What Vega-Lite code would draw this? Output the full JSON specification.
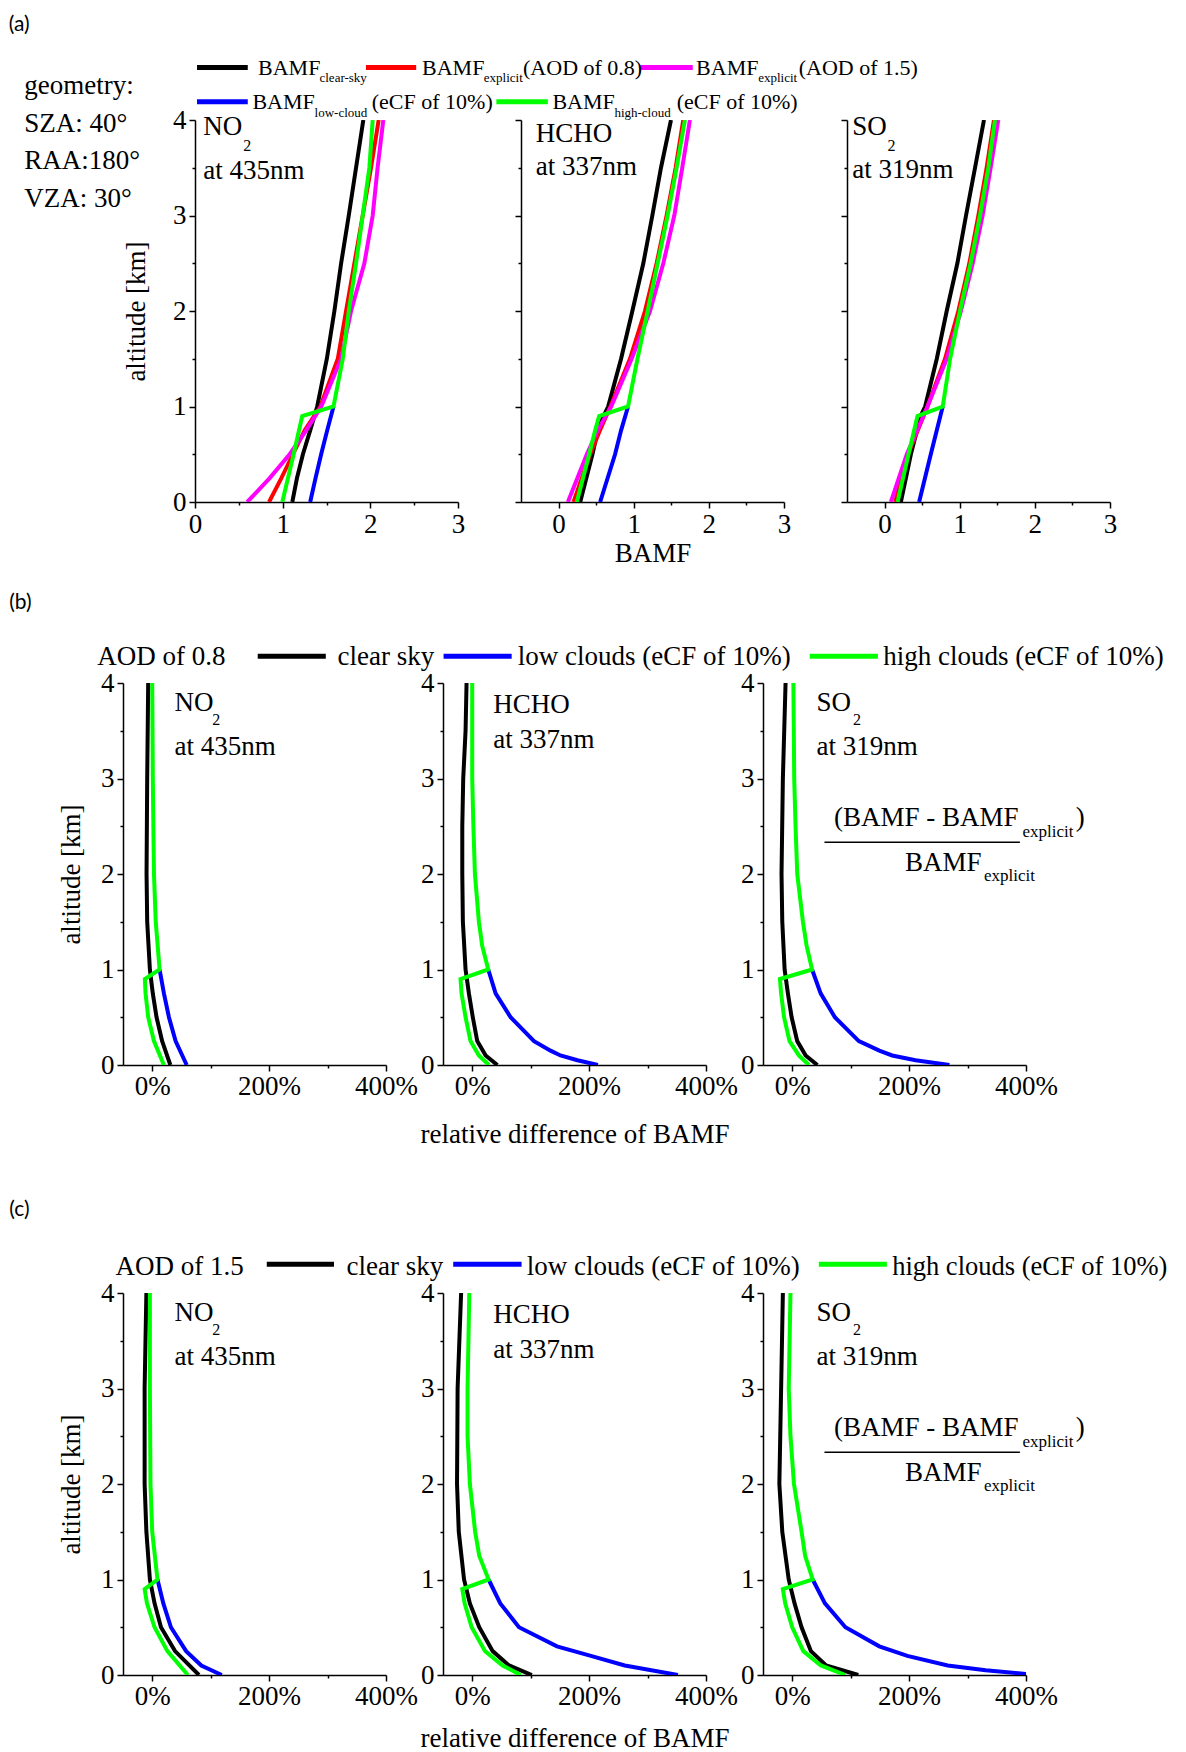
{
  "$schema": "https://vega.github.io/schema/vega-lite/v6.json",
  "padding": {"left": 8, "top": 13, "right": 5, "bottom": 0},
  "background": "#ffffff",
  "spacing": 25,
  "config": {
    "view": {"stroke": null},
    "font": "Liberation Serif",
    "axis": {
      "grid": false, "labelFont": "Liberation Serif", "labelFontSize": 27, "labelColor": "#000000",
      "titleFont": "Liberation Serif", "titleFontSize": 27, "titleFontWeight": "normal", "titleColor": "#000000",
      "domainColor": "#000000", "domainWidth": 1.5, "tickColor": "#000000", "tickWidth": 1.5,
      "labelPadding": 3, "labelFlush": false, "labelOverlap": false
    },
    "text": {"font": "Liberation Serif", "fontSize": 27, "align": "left", "baseline": "alphabetic", "color": "#000000"},
    "rule": {"color": "#000000", "strokeWidth": 5}
  },
  "datasets": {
    "a": [
      {"sp":"NO2","s":"cs","alt":0,"v":1.11},{"sp":"NO2","s":"cs","alt":0.25,"v":1.163},{"sp":"NO2","s":"cs","alt":0.5,"v":1.231},{"sp":"NO2","s":"cs","alt":0.75,"v":1.314},{"sp":"NO2","s":"cs","alt":1,"v":1.394},{"sp":"NO2","s":"cs","alt":1.5,"v":1.504},{"sp":"NO2","s":"cs","alt":2,"v":1.59},{"sp":"NO2","s":"cs","alt":2.5,"v":1.667},{"sp":"NO2","s":"cs","alt":3,"v":1.754},{"sp":"NO2","s":"cs","alt":3.5,"v":1.837},{"sp":"NO2","s":"cs","alt":4,"v":1.92},
      {"sp":"NO2","s":"e08","alt":0,"v":0.845},{"sp":"NO2","s":"e08","alt":0.25,"v":0.985},{"sp":"NO2","s":"e08","alt":0.5,"v":1.117},{"sp":"NO2","s":"e08","alt":0.75,"v":1.25},{"sp":"NO2","s":"e08","alt":1,"v":1.43},{"sp":"NO2","s":"e08","alt":1.5,"v":1.629},{"sp":"NO2","s":"e08","alt":2,"v":1.723},{"sp":"NO2","s":"e08","alt":2.5,"v":1.818},{"sp":"NO2","s":"e08","alt":3,"v":1.913},{"sp":"NO2","s":"e08","alt":3.5,"v":2.008},{"sp":"NO2","s":"e08","alt":4,"v":2.095},
      {"sp":"NO2","s":"e15","alt":0,"v":0.595},{"sp":"NO2","s":"e15","alt":0.1,"v":0.7},{"sp":"NO2","s":"e15","alt":0.25,"v":0.852},{"sp":"NO2","s":"e15","alt":0.5,"v":1.08},{"sp":"NO2","s":"e15","alt":0.75,"v":1.269},{"sp":"NO2","s":"e15","alt":1,"v":1.44},{"sp":"NO2","s":"e15","alt":1.5,"v":1.667},{"sp":"NO2","s":"e15","alt":2,"v":1.78},{"sp":"NO2","s":"e15","alt":2.5,"v":1.932},{"sp":"NO2","s":"e15","alt":3,"v":2.027},{"sp":"NO2","s":"e15","alt":3.5,"v":2.083},{"sp":"NO2","s":"e15","alt":4,"v":2.148},
      {"sp":"NO2","s":"low","alt":0,"v":1.314},{"sp":"NO2","s":"low","alt":0.25,"v":1.375},{"sp":"NO2","s":"low","alt":0.5,"v":1.439},{"sp":"NO2","s":"low","alt":0.75,"v":1.508},{"sp":"NO2","s":"low","alt":1,"v":1.58},
      {"sp":"NO2","s":"high","alt":0,"v":0.996},{"sp":"NO2","s":"high","alt":0.5,"v":1.125},{"sp":"NO2","s":"high","alt":0.9,"v":1.223},{"sp":"NO2","s":"high","alt":1,"v":1.58},{"sp":"NO2","s":"high","alt":1.5,"v":1.686},{"sp":"NO2","s":"high","alt":2,"v":1.754},{"sp":"NO2","s":"high","alt":2.5,"v":1.837},{"sp":"NO2","s":"high","alt":3,"v":1.913},{"sp":"NO2","s":"high","alt":3.5,"v":1.989},{"sp":"NO2","s":"high","alt":4,"v":2.027},
      {"sp":"HCHO","s":"cs","alt":0,"v":0.288},{"sp":"HCHO","s":"cs","alt":0.5,"v":0.451},{"sp":"HCHO","s":"cs","alt":0.75,"v":0.522},{"sp":"HCHO","s":"cs","alt":0.9,"v":0.6},{"sp":"HCHO","s":"cs","alt":1,"v":0.66},{"sp":"HCHO","s":"cs","alt":1.5,"v":0.832},{"sp":"HCHO","s":"cs","alt":2,"v":0.982},{"sp":"HCHO","s":"cs","alt":2.5,"v":1.128},{"sp":"HCHO","s":"cs","alt":3,"v":1.248},{"sp":"HCHO","s":"cs","alt":3.5,"v":1.363},{"sp":"HCHO","s":"cs","alt":4,"v":1.496},
      {"sp":"HCHO","s":"e08","alt":0,"v":0.199},{"sp":"HCHO","s":"e08","alt":0.5,"v":0.42},{"sp":"HCHO","s":"e08","alt":0.75,"v":0.55},{"sp":"HCHO","s":"e08","alt":1,"v":0.69},{"sp":"HCHO","s":"e08","alt":1.5,"v":0.95},{"sp":"HCHO","s":"e08","alt":2,"v":1.15},{"sp":"HCHO","s":"e08","alt":2.5,"v":1.305},{"sp":"HCHO","s":"e08","alt":3,"v":1.438},{"sp":"HCHO","s":"e08","alt":3.5,"v":1.558},{"sp":"HCHO","s":"e08","alt":4,"v":1.659},
      {"sp":"HCHO","s":"e15","alt":0,"v":0.124},{"sp":"HCHO","s":"e15","alt":0.5,"v":0.376},{"sp":"HCHO","s":"e15","alt":0.75,"v":0.52},{"sp":"HCHO","s":"e15","alt":1,"v":0.7},{"sp":"HCHO","s":"e15","alt":1.5,"v":0.973},{"sp":"HCHO","s":"e15","alt":2,"v":1.217},{"sp":"HCHO","s":"e15","alt":2.5,"v":1.394},{"sp":"HCHO","s":"e15","alt":3,"v":1.54},{"sp":"HCHO","s":"e15","alt":3.5,"v":1.646},{"sp":"HCHO","s":"e15","alt":4,"v":1.748},
      {"sp":"HCHO","s":"low","alt":0,"v":0.553},{"sp":"HCHO","s":"low","alt":0.5,"v":0.752},{"sp":"HCHO","s":"low","alt":0.75,"v":0.832},{"sp":"HCHO","s":"low","alt":1,"v":0.925},
      {"sp":"HCHO","s":"high","alt":0,"v":0.243},{"sp":"HCHO","s":"high","alt":0.5,"v":0.407},{"sp":"HCHO","s":"high","alt":0.75,"v":0.487},{"sp":"HCHO","s":"high","alt":0.9,"v":0.54},{"sp":"HCHO","s":"high","alt":1,"v":0.925},{"sp":"HCHO","s":"high","alt":1.5,"v":1.05},{"sp":"HCHO","s":"high","alt":2,"v":1.186},{"sp":"HCHO","s":"high","alt":2.5,"v":1.319},{"sp":"HCHO","s":"high","alt":3,"v":1.451},{"sp":"HCHO","s":"high","alt":3.5,"v":1.571},{"sp":"HCHO","s":"high","alt":4,"v":1.681},
      {"sp":"SO2","s":"cs","alt":0,"v":0.217},{"sp":"SO2","s":"cs","alt":0.5,"v":0.35},{"sp":"SO2","s":"cs","alt":0.9,"v":0.48},{"sp":"SO2","s":"cs","alt":1,"v":0.54},{"sp":"SO2","s":"cs","alt":1.5,"v":0.695},{"sp":"SO2","s":"cs","alt":2,"v":0.827},{"sp":"SO2","s":"cs","alt":2.5,"v":0.969},{"sp":"SO2","s":"cs","alt":3,"v":1.084},{"sp":"SO2","s":"cs","alt":3.5,"v":1.204},{"sp":"SO2","s":"cs","alt":4,"v":1.323},
      {"sp":"SO2","s":"e08","alt":0,"v":0.142},{"sp":"SO2","s":"e08","alt":0.5,"v":0.312},{"sp":"SO2","s":"e08","alt":1,"v":0.571},{"sp":"SO2","s":"e08","alt":1.5,"v":0.805},{"sp":"SO2","s":"e08","alt":2,"v":0.982},{"sp":"SO2","s":"e08","alt":2.5,"v":1.128},{"sp":"SO2","s":"e08","alt":3,"v":1.248},{"sp":"SO2","s":"e08","alt":3.5,"v":1.358},{"sp":"SO2","s":"e08","alt":4,"v":1.456},
      {"sp":"SO2","s":"e15","alt":0,"v":0.084},{"sp":"SO2","s":"e15","alt":0.5,"v":0.296},{"sp":"SO2","s":"e15","alt":1,"v":0.571},{"sp":"SO2","s":"e15","alt":1.5,"v":0.827},{"sp":"SO2","s":"e15","alt":2,"v":1.016},{"sp":"SO2","s":"e15","alt":2.5,"v":1.173},{"sp":"SO2","s":"e15","alt":3,"v":1.305},{"sp":"SO2","s":"e15","alt":3.5,"v":1.412},{"sp":"SO2","s":"e15","alt":4,"v":1.513},
      {"sp":"SO2","s":"low","alt":0,"v":0.46},{"sp":"SO2","s":"low","alt":0.5,"v":0.615},{"sp":"SO2","s":"low","alt":1,"v":0.774},
      {"sp":"SO2","s":"high","alt":0,"v":0.173},{"sp":"SO2","s":"high","alt":0.5,"v":0.319},{"sp":"SO2","s":"high","alt":0.9,"v":0.438},{"sp":"SO2","s":"high","alt":1,"v":0.774},{"sp":"SO2","s":"high","alt":1.5,"v":0.872},{"sp":"SO2","s":"high","alt":2,"v":1.004},{"sp":"SO2","s":"high","alt":2.5,"v":1.146},{"sp":"SO2","s":"high","alt":3,"v":1.27},{"sp":"SO2","s":"high","alt":3.5,"v":1.381},{"sp":"SO2","s":"high","alt":4,"v":1.469}
    ],
    "b": [
      {"sp":"NO2","s":"cs","alt":0,"v":31},{"sp":"NO2","s":"cs","alt":0.25,"v":17},{"sp":"NO2","s":"cs","alt":0.5,"v":7.4},{"sp":"NO2","s":"cs","alt":0.75,"v":1},{"sp":"NO2","s":"cs","alt":1,"v":-4},{"sp":"NO2","s":"cs","alt":1.5,"v":-8.6},{"sp":"NO2","s":"cs","alt":2,"v":-9.7},{"sp":"NO2","s":"cs","alt":3,"v":-8.6},{"sp":"NO2","s":"cs","alt":4,"v":-6.9},
      {"sp":"NO2","s":"low","alt":0,"v":59},{"sp":"NO2","s":"low","alt":0.25,"v":40},{"sp":"NO2","s":"low","alt":0.5,"v":28.6},{"sp":"NO2","s":"low","alt":0.75,"v":20},{"sp":"NO2","s":"low","alt":1,"v":12.6},
      {"sp":"NO2","s":"high","alt":0,"v":20},{"sp":"NO2","s":"high","alt":0.25,"v":3},{"sp":"NO2","s":"high","alt":0.5,"v":-6.9},{"sp":"NO2","s":"high","alt":0.75,"v":-11.4},{"sp":"NO2","s":"high","alt":0.9,"v":-12.6},{"sp":"NO2","s":"high","alt":1,"v":12.6},{"sp":"NO2","s":"high","alt":1.5,"v":6},{"sp":"NO2","s":"high","alt":2,"v":3},{"sp":"NO2","s":"high","alt":3,"v":1},{"sp":"NO2","s":"high","alt":4,"v":0},
      {"sp":"HCHO","s":"cs","alt":0,"v":43},{"sp":"HCHO","s":"cs","alt":0.1,"v":23},{"sp":"HCHO","s":"cs","alt":0.25,"v":8.6},{"sp":"HCHO","s":"cs","alt":0.5,"v":1},{"sp":"HCHO","s":"cs","alt":0.75,"v":-5.7},{"sp":"HCHO","s":"cs","alt":1,"v":-11.4},{"sp":"HCHO","s":"cs","alt":1.5,"v":-16},{"sp":"HCHO","s":"cs","alt":2,"v":-17},{"sp":"HCHO","s":"cs","alt":2.5,"v":-17},{"sp":"HCHO","s":"cs","alt":3,"v":-15.4},{"sp":"HCHO","s":"cs","alt":3.5,"v":-11.4},{"sp":"HCHO","s":"cs","alt":4,"v":-9.7},
      {"sp":"HCHO","s":"low","alt":0,"v":215},{"sp":"HCHO","s":"low","alt":0.05,"v":180},{"sp":"HCHO","s":"low","alt":0.1,"v":151},{"sp":"HCHO","s":"low","alt":0.15,"v":134},{"sp":"HCHO","s":"low","alt":0.25,"v":105.7},{"sp":"HCHO","s":"low","alt":0.5,"v":65.7},{"sp":"HCHO","s":"low","alt":0.75,"v":40},{"sp":"HCHO","s":"low","alt":1,"v":27.4},
      {"sp":"HCHO","s":"high","alt":0,"v":28.6},{"sp":"HCHO","s":"high","alt":0.1,"v":11.4},{"sp":"HCHO","s":"high","alt":0.25,"v":-2.9},{"sp":"HCHO","s":"high","alt":0.5,"v":-11.4},{"sp":"HCHO","s":"high","alt":0.75,"v":-18.3},{"sp":"HCHO","s":"high","alt":0.9,"v":-20},{"sp":"HCHO","s":"high","alt":1,"v":27.4},{"sp":"HCHO","s":"high","alt":1.25,"v":17},{"sp":"HCHO","s":"high","alt":1.5,"v":11.4},{"sp":"HCHO","s":"high","alt":2,"v":4.6},{"sp":"HCHO","s":"high","alt":2.5,"v":2},{"sp":"HCHO","s":"high","alt":3,"v":0},{"sp":"HCHO","s":"high","alt":4,"v":0},
      {"sp":"SO2","s":"cs","alt":0,"v":43},{"sp":"SO2","s":"cs","alt":0.1,"v":23},{"sp":"SO2","s":"cs","alt":0.25,"v":8.6},{"sp":"SO2","s":"cs","alt":0.5,"v":-1},{"sp":"SO2","s":"cs","alt":0.75,"v":-7.4},{"sp":"SO2","s":"cs","alt":1,"v":-13},{"sp":"SO2","s":"cs","alt":1.5,"v":-17},{"sp":"SO2","s":"cs","alt":2,"v":-18.3},{"sp":"SO2","s":"cs","alt":3,"v":-16},{"sp":"SO2","s":"cs","alt":4,"v":-11.4},
      {"sp":"SO2","s":"low","alt":0,"v":269},{"sp":"SO2","s":"low","alt":0.05,"v":211},{"sp":"SO2","s":"low","alt":0.1,"v":171},{"sp":"SO2","s":"low","alt":0.15,"v":149},{"sp":"SO2","s":"low","alt":0.25,"v":114},{"sp":"SO2","s":"low","alt":0.5,"v":73},{"sp":"SO2","s":"low","alt":0.75,"v":48.6},{"sp":"SO2","s":"low","alt":1,"v":34},
      {"sp":"SO2","s":"high","alt":0,"v":28.6},{"sp":"SO2","s":"high","alt":0.1,"v":11.4},{"sp":"SO2","s":"high","alt":0.25,"v":-4.6},{"sp":"SO2","s":"high","alt":0.5,"v":-14},{"sp":"SO2","s":"high","alt":0.75,"v":-19},{"sp":"SO2","s":"high","alt":0.9,"v":-21},{"sp":"SO2","s":"high","alt":1,"v":34},{"sp":"SO2","s":"high","alt":1.25,"v":24.6},{"sp":"SO2","s":"high","alt":1.5,"v":18.3},{"sp":"SO2","s":"high","alt":2,"v":8.6},{"sp":"SO2","s":"high","alt":2.5,"v":5.7},{"sp":"SO2","s":"high","alt":3,"v":3.4},{"sp":"SO2","s":"high","alt":4,"v":2}
    ],
    "c": [
      {"sp":"NO2","s":"cs","alt":0,"v":80},{"sp":"NO2","s":"cs","alt":0.25,"v":39},{"sp":"NO2","s":"cs","alt":0.5,"v":15},{"sp":"NO2","s":"cs","alt":0.75,"v":4},{"sp":"NO2","s":"cs","alt":1,"v":-4},{"sp":"NO2","s":"cs","alt":1.5,"v":-10},{"sp":"NO2","s":"cs","alt":2,"v":-13},{"sp":"NO2","s":"cs","alt":3,"v":-13},{"sp":"NO2","s":"cs","alt":4,"v":-10},
      {"sp":"NO2","s":"low","alt":0,"v":119},{"sp":"NO2","s":"low","alt":0.1,"v":84},{"sp":"NO2","s":"low","alt":0.25,"v":58},{"sp":"NO2","s":"low","alt":0.5,"v":32},{"sp":"NO2","s":"low","alt":0.75,"v":19},{"sp":"NO2","s":"low","alt":1,"v":9},
      {"sp":"NO2","s":"high","alt":0,"v":61},{"sp":"NO2","s":"high","alt":0.25,"v":26},{"sp":"NO2","s":"high","alt":0.5,"v":4},{"sp":"NO2","s":"high","alt":0.75,"v":-9},{"sp":"NO2","s":"high","alt":0.9,"v":-13},{"sp":"NO2","s":"high","alt":1,"v":9},{"sp":"NO2","s":"high","alt":1.5,"v":0},{"sp":"NO2","s":"high","alt":2,"v":-3},{"sp":"NO2","s":"high","alt":3,"v":-4},{"sp":"NO2","s":"high","alt":4,"v":-4},
      {"sp":"HCHO","s":"cs","alt":0,"v":102},{"sp":"HCHO","s":"cs","alt":0.1,"v":63},{"sp":"HCHO","s":"cs","alt":0.25,"v":35},{"sp":"HCHO","s":"cs","alt":0.5,"v":12},{"sp":"HCHO","s":"cs","alt":0.75,"v":-4},{"sp":"HCHO","s":"cs","alt":1,"v":-14},{"sp":"HCHO","s":"cs","alt":1.5,"v":-23},{"sp":"HCHO","s":"cs","alt":2,"v":-26},{"sp":"HCHO","s":"cs","alt":3,"v":-25},{"sp":"HCHO","s":"cs","alt":4,"v":-19},
      {"sp":"HCHO","s":"low","alt":0,"v":352},{"sp":"HCHO","s":"low","alt":0.1,"v":261},{"sp":"HCHO","s":"low","alt":0.2,"v":203},{"sp":"HCHO","s":"low","alt":0.3,"v":145},{"sp":"HCHO","s":"low","alt":0.5,"v":80},{"sp":"HCHO","s":"low","alt":0.75,"v":48},{"sp":"HCHO","s":"low","alt":1,"v":28},
      {"sp":"HCHO","s":"high","alt":0,"v":83},{"sp":"HCHO","s":"high","alt":0.1,"v":52},{"sp":"HCHO","s":"high","alt":0.25,"v":22},{"sp":"HCHO","s":"high","alt":0.5,"v":-1},{"sp":"HCHO","s":"high","alt":0.75,"v":-13},{"sp":"HCHO","s":"high","alt":0.9,"v":-17},{"sp":"HCHO","s":"high","alt":1,"v":28},{"sp":"HCHO","s":"high","alt":1.25,"v":12},{"sp":"HCHO","s":"high","alt":1.5,"v":5},{"sp":"HCHO","s":"high","alt":2,"v":-4},{"sp":"HCHO","s":"high","alt":2.5,"v":-8},{"sp":"HCHO","s":"high","alt":3,"v":-8},{"sp":"HCHO","s":"high","alt":4,"v":-5},
      {"sp":"SO2","s":"cs","alt":0,"v":113},{"sp":"SO2","s":"cs","alt":0.1,"v":58},{"sp":"SO2","s":"cs","alt":0.25,"v":32},{"sp":"SO2","s":"cs","alt":0.5,"v":16},{"sp":"SO2","s":"cs","alt":0.75,"v":4},{"sp":"SO2","s":"cs","alt":1,"v":-6},{"sp":"SO2","s":"cs","alt":1.5,"v":-17},{"sp":"SO2","s":"cs","alt":2,"v":-22},{"sp":"SO2","s":"cs","alt":3,"v":-19},{"sp":"SO2","s":"cs","alt":4,"v":-16},
      {"sp":"SO2","s":"low","alt":0,"v":420},{"sp":"SO2","s":"low","alt":0.05,"v":331},{"sp":"SO2","s":"low","alt":0.1,"v":266},{"sp":"SO2","s":"low","alt":0.2,"v":197},{"sp":"SO2","s":"low","alt":0.3,"v":149},{"sp":"SO2","s":"low","alt":0.5,"v":91},{"sp":"SO2","s":"low","alt":0.75,"v":56},{"sp":"SO2","s":"low","alt":1,"v":35},
      {"sp":"SO2","s":"high","alt":0,"v":91},{"sp":"SO2","s":"high","alt":0.1,"v":49},{"sp":"SO2","s":"high","alt":0.25,"v":19},{"sp":"SO2","s":"high","alt":0.5,"v":0},{"sp":"SO2","s":"high","alt":0.75,"v":-12},{"sp":"SO2","s":"high","alt":0.9,"v":-16},{"sp":"SO2","s":"high","alt":1,"v":35},{"sp":"SO2","s":"high","alt":1.25,"v":22},{"sp":"SO2","s":"high","alt":1.5,"v":16},{"sp":"SO2","s":"high","alt":2,"v":3},{"sp":"SO2","s":"high","alt":2.5,"v":-3},{"sp":"SO2","s":"high","alt":3,"v":-6},{"sp":"SO2","s":"high","alt":4,"v":-3}
    ]
  },
  "vconcat": [
    {
      "bounds": "flush",
      "spacing": 63,
      "hconcat": [
        {"width": 9, "height": 382, "data": {"values": [{}]}, "mark": "text", "encoding": {"text": {"value": ""}}},
        {
          "width": 263, "height": 382,
          "data": {"values": [{}]},
          "layer": [
            {"data": {"name": "a"}, "transform": [{"filter": "datum.sp === 'NO2'"}],
             "mark": {"type": "line", "strokeWidth": 4, "clip": true},
             "encoding": {
               "x": {"field": "v", "type": "quantitative", "scale": {"domain": [0, 3], "nice": false, "zero": false},
                     "axis": {"title": null, "values": [0, 0.5, 1, 1.5, 2, 2.5, 3], "labelExpr": "abs(datum.value - round(datum.value)) < 0.001 ? format(datum.value, 'd') : ''", "tickSize": {"condition": {"test": "abs(datum.value - round(datum.value)) > 0.001", "value": 3}, "value": 6}}},
               "y": {"field": "alt", "type": "quantitative", "scale": {"domain": [0, 4], "nice": false, "zero": false},
                     "axis": {"title": "altitude [km]", "titlePadding": 22, "values": [0, 0.5, 1, 1.5, 2, 2.5, 3, 3.5, 4], "labelExpr": "abs(datum.value - round(datum.value)) < 0.001 ? format(datum.value, 'd') : ''", "tickSize": {"condition": {"test": "abs(datum.value - round(datum.value)) > 0.001", "value": 3}, "value": 6}}},
               "color": {"field": "s", "type": "nominal", "scale": {"domain": ["cs", "e08", "e15", "low", "high"], "range": ["#000000", "#ff0000", "#ff00ff", "#0000ff", "#00ff00"]}, "legend": null},
               "order": {"field": "alt", "type": "quantitative"}
             }},
            {"mark": {"type": "text", "font": "Lato", "fontSize": 21}, "encoding": {"x": {"datum": -2.125}, "y": {"datum": 4.935}, "text": {"value": "(a)"}}},
            {"mark": {"type": "text", "fontSize": 27, "lineHeight": 37.5}, "encoding": {"x": {"datum": -1.947}, "y": {"datum": 4.272}, "text": {"value": ["geometry:", "SZA: 40°", "RAA:180°", "VZA: 30°"]}}},
            {"mark": {"type": "rule", "color": "#000000"}, "encoding": {"x": {"datum": 0.023}, "x2": {"datum": 0.602}, "y": {"datum": 4.551}}},
            {"mark": {"type": "rule", "color": "#ff0000"}, "encoding": {"x": {"datum": 1.95}, "x2": {"datum": 2.523}, "y": {"datum": 4.551}}},
            {"mark": {"type": "rule", "color": "#ff00ff"}, "encoding": {"x": {"datum": 5.08}, "x2": {"datum": 5.678}, "y": {"datum": 4.551}}},
            {"mark": {"type": "rule", "color": "#0000ff"}, "encoding": {"x": {"datum": 0.023}, "x2": {"datum": 0.602}, "y": {"datum": 4.192}}},
            {"mark": {"type": "rule", "color": "#00ff00"}, "encoding": {"x": {"datum": 3.4375}, "x2": {"datum": 4.025}, "y": {"datum": 4.192}}},
            {"mark": {"type": "text", "fontSize": 22}, "encoding": {"x": {"datum": 0.719}, "y": {"datum": 4.474}, "text": {"value": "BAMF"}}},
            {"mark": {"type": "text", "fontSize": 13}, "encoding": {"x": {"datum": 1.42}, "y": {"datum": 4.394}, "text": {"value": "clear-sky"}}},
            {"mark": {"type": "text", "fontSize": 22}, "encoding": {"x": {"datum": 2.59}, "y": {"datum": 4.474}, "text": {"value": "BAMF"}}},
            {"mark": {"type": "text", "fontSize": 13}, "encoding": {"x": {"datum": 3.294}, "y": {"datum": 4.394}, "text": {"value": "explicit"}}},
            {"mark": {"type": "text", "fontSize": 22}, "encoding": {"x": {"datum": 3.742}, "y": {"datum": 4.474}, "text": {"value": "(AOD of 0.8)"}}},
            {"mark": {"type": "text", "fontSize": 22}, "encoding": {"x": {"datum": 5.716}, "y": {"datum": 4.474}, "text": {"value": "BAMF"}}},
            {"mark": {"type": "text", "fontSize": 13}, "encoding": {"x": {"datum": 6.424}, "y": {"datum": 4.394}, "text": {"value": "explicit"}}},
            {"mark": {"type": "text", "fontSize": 22}, "encoding": {"x": {"datum": 6.886}, "y": {"datum": 4.474}, "text": {"value": "(AOD of 1.5)"}}},
            {"mark": {"type": "text", "fontSize": 22}, "encoding": {"x": {"datum": 0.655}, "y": {"datum": 4.115}, "text": {"value": "BAMF"}}},
            {"mark": {"type": "text", "fontSize": 13}, "encoding": {"x": {"datum": 1.364}, "y": {"datum": 4.027}, "text": {"value": "low-cloud"}}},
            {"mark": {"type": "text", "fontSize": 22}, "encoding": {"x": {"datum": 2.016}, "y": {"datum": 4.115}, "text": {"value": "(eCF of 10%)"}}},
            {"mark": {"type": "text", "fontSize": 22}, "encoding": {"x": {"datum": 4.077}, "y": {"datum": 4.115}, "text": {"value": "BAMF"}}},
            {"mark": {"type": "text", "fontSize": 13}, "encoding": {"x": {"datum": 4.784}, "y": {"datum": 4.027}, "text": {"value": "high-cloud"}}},
            {"mark": {"type": "text", "fontSize": 22}, "encoding": {"x": {"datum": 5.494}, "y": {"datum": 4.115}, "text": {"value": "(eCF of 10%)"}}},
            {"mark": {"type": "text", "fontSize": 27}, "encoding": {"x": {"datum": 0.095}, "y": {"datum": 3.84}, "text": {"value": "NO"}}},
            {"mark": {"type": "text", "fontSize": 16}, "encoding": {"x": {"datum": 0.549}, "y": {"datum": 3.68}, "text": {"value": "2"}}},
            {"mark": {"type": "text", "fontSize": 27}, "encoding": {"x": {"datum": 0.095}, "y": {"datum": 3.385}, "text": {"value": "at 435nm"}}}
          ]
        },
        {
          "width": 263, "height": 382,
          "data": {"values": [{}]},
          "layer": [
            {"data": {"name": "a"}, "transform": [{"filter": "datum.sp === 'HCHO'"}],
             "mark": {"type": "line", "strokeWidth": 4, "clip": true},
             "encoding": {
               "x": {"field": "v", "type": "quantitative", "scale": {"domain": [-0.5, 3], "nice": false, "zero": false},
                     "axis": {"title": "BAMF", "titlePadding": 3, "values": [0, 0.5, 1, 1.5, 2, 2.5, 3], "labelExpr": "abs(datum.value - round(datum.value)) < 0.001 ? format(datum.value, 'd') : ''", "tickSize": {"condition": {"test": "abs(datum.value - round(datum.value)) > 0.001", "value": 3}, "value": 6}}},
               "y": {"field": "alt", "type": "quantitative", "scale": {"domain": [0, 4], "nice": false, "zero": false},
                     "axis": {"title": null, "values": [0, 0.5, 1, 1.5, 2, 2.5, 3, 3.5, 4], "labelExpr": "''", "tickSize": {"condition": {"test": "abs(datum.value - round(datum.value)) > 0.001", "value": 3}, "value": 6}}},
               "color": {"field": "s", "type": "nominal", "scale": {"domain": ["cs", "e08", "e15", "low", "high"], "range": ["#000000", "#ff0000", "#ff00ff", "#0000ff", "#00ff00"]}, "legend": null},
               "order": {"field": "alt", "type": "quantitative"}
             }},
            {"mark": {"type": "text", "fontSize": 27}, "encoding": {"x": {"datum": -0.305}, "y": {"datum": 3.77}, "text": {"value": "HCHO"}}},
            {"mark": {"type": "text", "fontSize": 27}, "encoding": {"x": {"datum": -0.305}, "y": {"datum": 3.42}, "text": {"value": "at 337nm"}}}
          ]
        },
        {
          "width": 263, "height": 382,
          "data": {"values": [{}]},
          "layer": [
            {"data": {"name": "a"}, "transform": [{"filter": "datum.sp === 'SO2'"}],
             "mark": {"type": "line", "strokeWidth": 4, "clip": true},
             "encoding": {
               "x": {"field": "v", "type": "quantitative", "scale": {"domain": [-0.5, 3], "nice": false, "zero": false},
                     "axis": {"title": null, "values": [0, 0.5, 1, 1.5, 2, 2.5, 3], "labelExpr": "abs(datum.value - round(datum.value)) < 0.001 ? format(datum.value, 'd') : ''", "tickSize": {"condition": {"test": "abs(datum.value - round(datum.value)) > 0.001", "value": 3}, "value": 6}}},
               "y": {"field": "alt", "type": "quantitative", "scale": {"domain": [0, 4], "nice": false, "zero": false},
                     "axis": {"title": null, "values": [0, 0.5, 1, 1.5, 2, 2.5, 3, 3.5, 4], "labelExpr": "''", "tickSize": {"condition": {"test": "abs(datum.value - round(datum.value)) > 0.001", "value": 3}, "value": 6}}},
               "color": {"field": "s", "type": "nominal", "scale": {"domain": ["cs", "e08", "e15", "low", "high"], "range": ["#000000", "#ff0000", "#ff00ff", "#0000ff", "#00ff00"]}, "legend": null},
               "order": {"field": "alt", "type": "quantitative"}
             }},
            {"mark": {"type": "text", "fontSize": 27}, "encoding": {"x": {"datum": -0.43}, "y": {"datum": 3.84}, "text": {"value": "SO"}}},
            {"mark": {"type": "text", "fontSize": 16}, "encoding": {"x": {"datum": 0.04}, "y": {"datum": 3.68}, "text": {"value": "2"}}},
            {"mark": {"type": "text", "fontSize": 27}, "encoding": {"x": {"datum": -0.43}, "y": {"datum": 3.39}, "text": {"value": "at 319nm"}}}
          ]
        }
      ]
    },
    {
      "spacing": 51,
      "vconcat": [
        {
          "bounds": "flush",
          "spacing": 57,
          "hconcat": [
            {
              "width": 263, "height": 382,
              "data": {"values": [{}]},
              "layer": [
                {"data": {"name": "b"}, "transform": [{"filter": "datum.sp === 'NO2'"}],
                 "mark": {"type": "line", "strokeWidth": 4, "clip": true},
                 "encoding": {
                   "x": {"field": "v", "type": "quantitative", "scale": {"domain": [-50, 400], "nice": false, "zero": false},
                         "axis": {"title": null, "labelPadding": 2, "values": [0, 100, 200, 300, 400], "labelExpr": "datum.value % 200 === 0 ? datum.value + '%' : ''", "tickSize": {"condition": {"test": "datum.value % 200 !== 0", "value": 3}, "value": 6}}},
                   "y": {"field": "alt", "type": "quantitative", "scale": {"domain": [0, 4], "nice": false, "zero": false},
                         "axis": {"title": "altitude [km]", "titlePadding": 15, "values": [0, 0.5, 1, 1.5, 2, 2.5, 3, 3.5, 4], "labelExpr": "abs(datum.value - round(datum.value)) < 0.001 ? format(datum.value, 'd') : ''", "tickSize": {"condition": {"test": "abs(datum.value - round(datum.value)) > 0.001", "value": 3}, "value": 6}}},
                   "color": {"field": "s", "type": "nominal", "scale": {"domain": ["cs", "low", "high"], "range": ["#000000", "#0000ff", "#00ff00"]}, "legend": null},
                   "order": {"field": "alt", "type": "quantitative"}
                 }},
                {"mark": {"type": "text", "font": "Lato", "fontSize": 21}, "encoding": {"x": {"datum": -244.6}, "y": {"datum": 4.776}, "text": {"value": "(b)"}}},
                {"mark": {"type": "text", "fontSize": 27}, "encoding": {"x": {"datum": -94}, "y": {"datum": 4.19}, "text": {"value": "AOD of 0.8"}}},
                {"mark": {"type": "rule", "color": "#000000"}, "encoding": {"x": {"datum": 180.5}, "x2": {"datum": 297}, "y": {"datum": 4.28}}},
                {"mark": {"type": "text", "fontSize": 27}, "encoding": {"x": {"datum": 317}, "y": {"datum": 4.19}, "text": {"value": "clear sky"}}},
                {"mark": {"type": "rule", "color": "#0000ff"}, "encoding": {"x": {"datum": 498.5}, "x2": {"datum": 615}, "y": {"datum": 4.28}}},
                {"mark": {"type": "text", "fontSize": 27}, "encoding": {"x": {"datum": 625.6}, "y": {"datum": 4.19}, "text": {"value": "low clouds (eCF of 10%)"}}},
                {"mark": {"type": "rule", "color": "#00ff00"}, "encoding": {"x": {"datum": 1125}, "x2": {"datum": 1241.7}, "y": {"datum": 4.28}}},
                {"mark": {"type": "text", "fontSize": 27}, "encoding": {"x": {"datum": 1250.8}, "y": {"datum": 4.19}, "text": {"value": "high clouds (eCF of 10%)"}}},
                {"mark": {"type": "text", "fontSize": 27}, "encoding": {"x": {"datum": 38.2}, "y": {"datum": 3.703}, "text": {"value": "NO"}}},
                {"mark": {"type": "text", "fontSize": 16}, "encoding": {"x": {"datum": 102.9}, "y": {"datum": 3.56}, "text": {"value": "2"}}},
                {"mark": {"type": "text", "fontSize": 27}, "encoding": {"x": {"datum": 38.2}, "y": {"datum": 3.242}, "text": {"value": "at 435nm"}}}
              ]
            },
            {
              "width": 263, "height": 382,
              "data": {"values": [{}]},
              "layer": [
                {"data": {"name": "b"}, "transform": [{"filter": "datum.sp === 'HCHO'"}],
                 "mark": {"type": "line", "strokeWidth": 4, "clip": true},
                 "encoding": {
                   "x": {"field": "v", "type": "quantitative", "scale": {"domain": [-50, 400], "nice": false, "zero": false},
                         "axis": {"title": "relative difference of BAMF", "titlePadding": 22, "labelPadding": 2, "values": [0, 100, 200, 300, 400], "labelExpr": "datum.value % 200 === 0 ? datum.value + '%' : ''", "tickSize": {"condition": {"test": "datum.value % 200 !== 0", "value": 3}, "value": 6}}},
                   "y": {"field": "alt", "type": "quantitative", "scale": {"domain": [0, 4], "nice": false, "zero": false},
                         "axis": {"title": null, "values": [0, 0.5, 1, 1.5, 2, 2.5, 3, 3.5, 4], "labelExpr": "abs(datum.value - round(datum.value)) < 0.001 ? format(datum.value, 'd') : ''", "tickSize": {"condition": {"test": "abs(datum.value - round(datum.value)) > 0.001", "value": 3}, "value": 6}}},
                   "color": {"field": "s", "type": "nominal", "scale": {"domain": ["cs", "low", "high"], "range": ["#000000", "#0000ff", "#00ff00"]}, "legend": null},
                   "order": {"field": "alt", "type": "quantitative"}
                 }},
                {"mark": {"type": "text", "fontSize": 27}, "encoding": {"x": {"datum": 36}, "y": {"datum": 3.686}, "text": {"value": "HCHO"}}},
                {"mark": {"type": "text", "fontSize": 27}, "encoding": {"x": {"datum": 36}, "y": {"datum": 3.319}, "text": {"value": "at 337nm"}}}
              ]
            },
            {
              "width": 263, "height": 382,
              "data": {"values": [{}]},
              "layer": [
                {"data": {"name": "b"}, "transform": [{"filter": "datum.sp === 'SO2'"}],
                 "mark": {"type": "line", "strokeWidth": 4, "clip": true},
                 "encoding": {
                   "x": {"field": "v", "type": "quantitative", "scale": {"domain": [-50, 400], "nice": false, "zero": false},
                         "axis": {"title": null, "labelPadding": 2, "values": [0, 100, 200, 300, 400], "labelExpr": "datum.value % 200 === 0 ? datum.value + '%' : ''", "tickSize": {"condition": {"test": "datum.value % 200 !== 0", "value": 3}, "value": 6}}},
                   "y": {"field": "alt", "type": "quantitative", "scale": {"domain": [0, 4], "nice": false, "zero": false},
                         "axis": {"title": null, "values": [0, 0.5, 1, 1.5, 2, 2.5, 3, 3.5, 4], "labelExpr": "abs(datum.value - round(datum.value)) < 0.001 ? format(datum.value, 'd') : ''", "tickSize": {"condition": {"test": "abs(datum.value - round(datum.value)) > 0.001", "value": 3}, "value": 6}}},
                   "color": {"field": "s", "type": "nominal", "scale": {"domain": ["cs", "low", "high"], "range": ["#000000", "#0000ff", "#00ff00"]}, "legend": null},
                   "order": {"field": "alt", "type": "quantitative"}
                 }},
                {"mark": {"type": "text", "fontSize": 27}, "encoding": {"x": {"datum": 41.7}, "y": {"datum": 3.703}, "text": {"value": "SO"}}},
                {"mark": {"type": "text", "fontSize": 16}, "encoding": {"x": {"datum": 104}, "y": {"datum": 3.56}, "text": {"value": "2"}}},
                {"mark": {"type": "text", "fontSize": 27}, "encoding": {"x": {"datum": 41.7}, "y": {"datum": 3.242}, "text": {"value": "at 319nm"}}},
                {"mark": {"type": "text", "fontSize": 27}, "encoding": {"x": {"datum": 71.3}, "y": {"datum": 2.498}, "text": {"value": "(BAMF - BAMF"}}},
                {"mark": {"type": "text", "fontSize": 17}, "encoding": {"x": {"datum": 394}, "y": {"datum": 2.39}, "text": {"value": "explicit"}}},
                {"mark": {"type": "text", "fontSize": 27}, "encoding": {"x": {"datum": 485}, "y": {"datum": 2.498}, "text": {"value": ")"}}},
                {"mark": {"type": "rule", "strokeWidth": 1.5, "color": "#000000"}, "encoding": {"x": {"datum": 55.2}, "x2": {"datum": 389.6}, "y": {"datum": 2.333}}},
                {"mark": {"type": "text", "fontSize": 27}, "encoding": {"x": {"datum": 193}, "y": {"datum": 2.032}, "text": {"value": "BAMF"}}},
                {"mark": {"type": "text", "fontSize": 17}, "encoding": {"x": {"datum": 328}, "y": {"datum": 1.928}, "text": {"value": "explicit"}}}
              ]
            }
          ]
        },
        {
          "bounds": "flush",
          "spacing": 57,
          "hconcat": [
            {
              "width": 263, "height": 382,
              "data": {"values": [{}]},
              "layer": [
                {"data": {"name": "c"}, "transform": [{"filter": "datum.sp === 'NO2'"}],
                 "mark": {"type": "line", "strokeWidth": 4, "clip": true},
                 "encoding": {
                   "x": {"field": "v", "type": "quantitative", "scale": {"domain": [-50, 400], "nice": false, "zero": false},
                         "axis": {"title": null, "labelPadding": 2, "values": [0, 100, 200, 300, 400], "labelExpr": "datum.value % 200 === 0 ? datum.value + '%' : ''", "tickSize": {"condition": {"test": "datum.value % 200 !== 0", "value": 3}, "value": 6}}},
                   "y": {"field": "alt", "type": "quantitative", "scale": {"domain": [0, 4], "nice": false, "zero": false},
                         "axis": {"title": "altitude [km]", "titlePadding": 15, "values": [0, 0.5, 1, 1.5, 2, 2.5, 3, 3.5, 4], "labelExpr": "abs(datum.value - round(datum.value)) < 0.001 ? format(datum.value, 'd') : ''", "tickSize": {"condition": {"test": "abs(datum.value - round(datum.value)) > 0.001", "value": 3}, "value": 6}}},
                   "color": {"field": "s", "type": "nominal", "scale": {"domain": ["cs", "low", "high"], "range": ["#000000", "#0000ff", "#00ff00"]}, "legend": null},
                   "order": {"field": "alt", "type": "quantitative"}
                 }},
                {"mark": {"type": "text", "font": "Lato", "fontSize": 21}, "encoding": {"x": {"datum": -244.6}, "y": {"datum": 4.807}, "text": {"value": "(c)"}}},
                {"mark": {"type": "text", "fontSize": 27}, "encoding": {"x": {"datum": -63}, "y": {"datum": 4.19}, "text": {"value": "AOD of 1.5"}}},
                {"mark": {"type": "rule", "color": "#000000"}, "encoding": {"x": {"datum": 196}, "x2": {"datum": 311}, "y": {"datum": 4.3}}},
                {"mark": {"type": "text", "fontSize": 27}, "encoding": {"x": {"datum": 332.6}, "y": {"datum": 4.19}, "text": {"value": "clear sky"}}},
                {"mark": {"type": "rule", "color": "#0000ff"}, "encoding": {"x": {"datum": 515}, "x2": {"datum": 632}, "y": {"datum": 4.3}}},
                {"mark": {"type": "text", "fontSize": 27}, "encoding": {"x": {"datum": 641}, "y": {"datum": 4.19}, "text": {"value": "low clouds (eCF of 10%)"}}},
                {"mark": {"type": "rule", "color": "#00ff00"}, "encoding": {"x": {"datum": 1140.6}, "x2": {"datum": 1257}, "y": {"datum": 4.3}}},
                {"mark": {"type": "text", "fontSize": 26.5}, "encoding": {"x": {"datum": 1266}, "y": {"datum": 4.19}, "text": {"value": "high clouds (eCF of 10%)"}}},
                {"mark": {"type": "text", "fontSize": 27}, "encoding": {"x": {"datum": 38.2}, "y": {"datum": 3.703}, "text": {"value": "NO"}}},
                {"mark": {"type": "text", "fontSize": 16}, "encoding": {"x": {"datum": 102.9}, "y": {"datum": 3.56}, "text": {"value": "2"}}},
                {"mark": {"type": "text", "fontSize": 27}, "encoding": {"x": {"datum": 38.2}, "y": {"datum": 3.242}, "text": {"value": "at 435nm"}}}
              ]
            },
            {
              "width": 263, "height": 382,
              "data": {"values": [{}]},
              "layer": [
                {"data": {"name": "c"}, "transform": [{"filter": "datum.sp === 'HCHO'"}],
                 "mark": {"type": "line", "strokeWidth": 4, "clip": true},
                 "encoding": {
                   "x": {"field": "v", "type": "quantitative", "scale": {"domain": [-50, 400], "nice": false, "zero": false},
                         "axis": {"title": "relative difference of BAMF", "titlePadding": 16, "labelPadding": 2, "values": [0, 100, 200, 300, 400], "labelExpr": "datum.value % 200 === 0 ? datum.value + '%' : ''", "tickSize": {"condition": {"test": "datum.value % 200 !== 0", "value": 3}, "value": 6}}},
                   "y": {"field": "alt", "type": "quantitative", "scale": {"domain": [0, 4], "nice": false, "zero": false},
                         "axis": {"title": null, "values": [0, 0.5, 1, 1.5, 2, 2.5, 3, 3.5, 4], "labelExpr": "abs(datum.value - round(datum.value)) < 0.001 ? format(datum.value, 'd') : ''", "tickSize": {"condition": {"test": "abs(datum.value - round(datum.value)) > 0.001", "value": 3}, "value": 6}}},
                   "color": {"field": "s", "type": "nominal", "scale": {"domain": ["cs", "low", "high"], "range": ["#000000", "#0000ff", "#00ff00"]}, "legend": null},
                   "order": {"field": "alt", "type": "quantitative"}
                 }},
                {"mark": {"type": "text", "fontSize": 27}, "encoding": {"x": {"datum": 36}, "y": {"datum": 3.686}, "text": {"value": "HCHO"}}},
                {"mark": {"type": "text", "fontSize": 27}, "encoding": {"x": {"datum": 36}, "y": {"datum": 3.319}, "text": {"value": "at 337nm"}}}
              ]
            },
            {
              "width": 263, "height": 382,
              "data": {"values": [{}]},
              "layer": [
                {"data": {"name": "c"}, "transform": [{"filter": "datum.sp === 'SO2'"}],
                 "mark": {"type": "line", "strokeWidth": 4, "clip": true},
                 "encoding": {
                   "x": {"field": "v", "type": "quantitative", "scale": {"domain": [-50, 400], "nice": false, "zero": false},
                         "axis": {"title": null, "labelPadding": 2, "values": [0, 100, 200, 300, 400], "labelExpr": "datum.value % 200 === 0 ? datum.value + '%' : ''", "tickSize": {"condition": {"test": "datum.value % 200 !== 0", "value": 3}, "value": 6}}},
                   "y": {"field": "alt", "type": "quantitative", "scale": {"domain": [0, 4], "nice": false, "zero": false},
                         "axis": {"title": null, "values": [0, 0.5, 1, 1.5, 2, 2.5, 3, 3.5, 4], "labelExpr": "abs(datum.value - round(datum.value)) < 0.001 ? format(datum.value, 'd') : ''", "tickSize": {"condition": {"test": "abs(datum.value - round(datum.value)) > 0.001", "value": 3}, "value": 6}}},
                   "color": {"field": "s", "type": "nominal", "scale": {"domain": ["cs", "low", "high"], "range": ["#000000", "#0000ff", "#00ff00"]}, "legend": null},
                   "order": {"field": "alt", "type": "quantitative"}
                 }},
                {"mark": {"type": "text", "fontSize": 27}, "encoding": {"x": {"datum": 41.7}, "y": {"datum": 3.703}, "text": {"value": "SO"}}},
                {"mark": {"type": "text", "fontSize": 16}, "encoding": {"x": {"datum": 104}, "y": {"datum": 3.56}, "text": {"value": "2"}}},
                {"mark": {"type": "text", "fontSize": 27}, "encoding": {"x": {"datum": 41.7}, "y": {"datum": 3.242}, "text": {"value": "at 319nm"}}},
                {"mark": {"type": "text", "fontSize": 27}, "encoding": {"x": {"datum": 71.3}, "y": {"datum": 2.498}, "text": {"value": "(BAMF - BAMF"}}},
                {"mark": {"type": "text", "fontSize": 17}, "encoding": {"x": {"datum": 394}, "y": {"datum": 2.39}, "text": {"value": "explicit"}}},
                {"mark": {"type": "text", "fontSize": 27}, "encoding": {"x": {"datum": 485}, "y": {"datum": 2.498}, "text": {"value": ")"}}},
                {"mark": {"type": "rule", "strokeWidth": 1.5, "color": "#000000"}, "encoding": {"x": {"datum": 55.2}, "x2": {"datum": 389.6}, "y": {"datum": 2.333}}},
                {"mark": {"type": "text", "fontSize": 27}, "encoding": {"x": {"datum": 193}, "y": {"datum": 2.032}, "text": {"value": "BAMF"}}},
                {"mark": {"type": "text", "fontSize": 17}, "encoding": {"x": {"datum": 328}, "y": {"datum": 1.928}, "text": {"value": "explicit"}}}
              ]
            }
          ]
        }
      ]
    }
  ]
}
